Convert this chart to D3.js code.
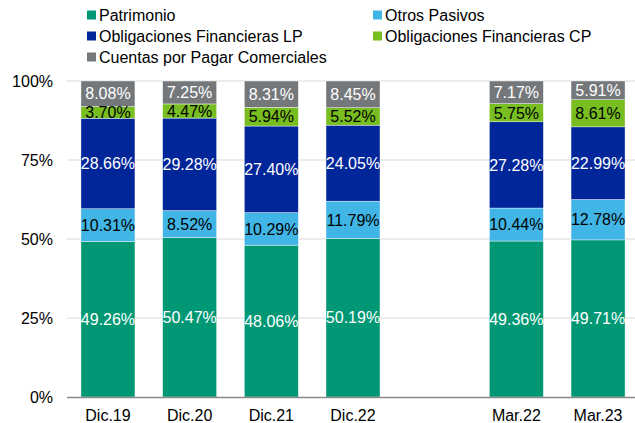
<!DOCTYPE html>
<html>
<head>
<meta charset="utf-8">
<script src="https://cdn.jsdelivr.net/npm/d3@7.9.0/dist/d3.min.js"></script>
<style>
  body { margin: 0; background: #fff; }
  svg { display: block; font-family: "Liberation Sans", Arial, sans-serif; }
</style>
</head>
<body>
<svg id="chart" width="635" height="423"></svg>
<script>
// periods (an empty slot separates the year-end and quarter bars)
const categories = ['Dic.19', 'Dic.20', 'Dic.21', 'Dic.22', 'gap', 'Mar.22', 'Mar.23'];
const periods = ['Dic.19', 'Dic.20', 'Dic.21', 'Dic.22', 'Mar.22', 'Mar.23'];

// series, bottom to top
const seriesNames = [
  'Patrimonio',
  'Otros Pasivos',
  'Obligaciones Financieras LP',
  'Obligaciones Financieras CP',
  'Cuentas por Pagar Comerciales'
];
const patrimonio = [49.26, 50.47, 48.06, 50.19, 49.36, 49.71];
const otrosPasivos = [10.31, 8.52, 10.29, 11.79, 10.44, 12.78];
const obligLP = [28.66, 29.28, 27.40, 24.05, 27.28, 22.99];
const obligCP = [3.70, 4.47, 5.94, 5.52, 5.75, 8.61];
const cuentas = [8.08, 7.25, 8.31, 8.45, 7.17, 5.91];

const yTicks = [0, 25, 50, 75, 100];

const colors = ['#009874', '#41b6e6', '#00269a', '#78be21', '#75787b'];
const labelColors = ['#fff', '#000', '#fff', '#000', '#fff'];

// build rows for the stack
const seriesValues = [patrimonio, otrosPasivos, obligLP, obligCP, cuentas];
const rows = periods.map((p, i) => {
  const row = { period: p };
  seriesNames.forEach((s, j) => { row[s] = seriesValues[j][i]; });
  return row;
});
const stacked = d3.stack().keys(seriesNames)(rows);

const svg = d3.select('#chart');

const x = d3.scaleBand()
  .domain(categories)
  .range([67, 639])
  .paddingInner(0.339)
  .paddingOuter(0.171);

const y = d3.scaleLinear().domain([0, 100]).range([397, 81]);

// gridlines
svg.append('g')
  .selectAll('line')
  .data(yTicks.filter(t => t > 0))
  .enter()
  .append('line')
  .attr('x1', 67)
  .attr('x2', 635)
  .attr('y1', d => y(d))
  .attr('y2', d => y(d))
  .attr('stroke', '#d9d9d9')
  .attr('stroke-width', 1);

// y tick labels
svg.append('g')
  .selectAll('text')
  .data(yTicks)
  .enter()
  .append('text')
  .attr('x', 53)
  .attr('y', d => y(d))
  .attr('dy', '0.36em')
  .attr('text-anchor', 'end')
  .attr('font-size', 16)
  .attr('fill', '#000')
  .text(d => d + '%');

// bars
const layers = svg.append('g')
  .selectAll('g')
  .data(stacked)
  .enter()
  .append('g')
  .attr('fill', (d, i) => colors[i]);

layers.selectAll('rect')
  .data(d => d)
  .enter()
  .append('rect')
  .attr('x', d => x(d.data.period))
  .attr('width', x.bandwidth())
  .attr('y', d => y(d[1]))
  .attr('height', d => y(d[0]) - y(d[1]))
  .attr('stroke', '#fff')
  .attr('stroke-width', 0.4);

// data labels
stacked.forEach((layer, i) => {
  svg.append('g')
    .selectAll('text')
    .data(layer)
    .enter()
    .append('text')
    .attr('x', d => x(d.data.period) + x.bandwidth() / 2)
    .attr('y', d => (y(d[0]) + y(d[1])) / 2)
    .attr('dy', '0.36em')
    .attr('text-anchor', 'middle')
    .attr('font-size', 16)
    .attr('fill', labelColors[i])
    .text(d => (d[1] - d[0]).toFixed(2) + '%');
});

// bottom axis line
svg.append('line')
  .attr('x1', 67)
  .attr('x2', 635)
  .attr('y1', y(0) + 0.5)
  .attr('y2', y(0) + 0.5)
  .attr('stroke', '#898989')
  .attr('stroke-width', 1.3);

// x labels
svg.append('g')
  .selectAll('text')
  .data(periods)
  .enter()
  .append('text')
  .attr('x', d => x(d) + x.bandwidth() / 2)
  .attr('y', 421)
  .attr('text-anchor', 'middle')
  .attr('font-size', 16)
  .attr('fill', '#000')
  .text(d => d);

// legend
const legendPos = [
  { x: 87, y: 15 },
  { x: 373, y: 15 },
  { x: 87, y: 36 },
  { x: 373, y: 36 },
  { x: 87, y: 57 }
];
const legend = svg.append('g')
  .selectAll('g')
  .data(seriesNames)
  .enter()
  .append('g')
  .attr('transform', (d, i) => `translate(${legendPos[i].x},${legendPos[i].y})`);

legend.append('rect')
  .attr('x', 0)
  .attr('y', -4.5)
  .attr('width', 9)
  .attr('height', 9)
  .attr('fill', (d, i) => colors[i]);

legend.append('text')
  .attr('x', 12)
  .attr('y', 0)
  .attr('dy', '0.36em')
  .attr('font-size', 16)
  .attr('fill', '#000')
  .text(d => d);
</script>
</body>
</html>
